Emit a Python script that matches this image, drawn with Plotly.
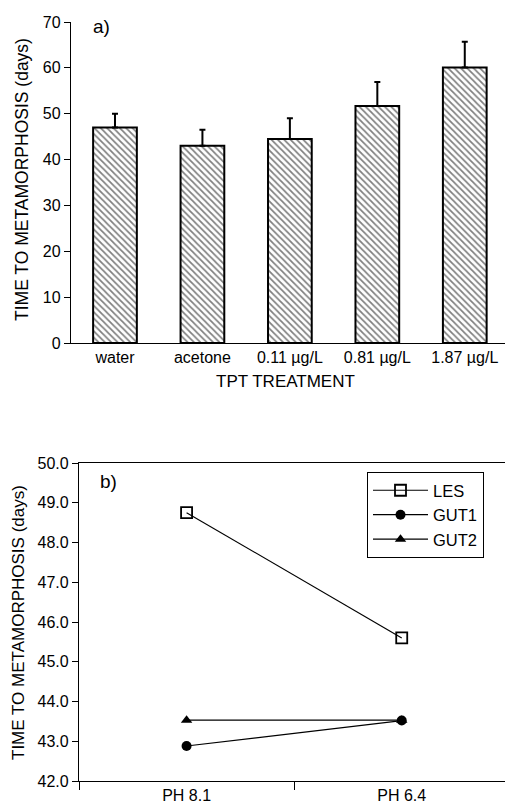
import plotly.graph_objects as go

# Panel a data
treatments = ["water", "acetone", "0.11 µg/L", "0.81 µg/L", "1.87 µg/L"]
days_mean = [47.0, 43.0, 44.5, 51.7, 60.1]
days_err = [3.0, 3.5, 4.5, 5.2, 5.6]

# Panel b data
ph_labels = ["PH 8.1", "PH 6.4"]
ph_pos = [0.5, 1.5]
les = [48.75, 45.6]
gut1 = [42.88, 43.52]
gut2 = [43.53, 43.53]

W, H = 505, 811
FONT = "Liberation Sans, Arial, sans-serif"
FS = 16


def px(X):
    return X / W


def py(Y):
    return 1 - Y / H


fig = go.Figure()

fig.add_trace(go.Bar(
    x=treatments, y=days_mean, width=0.5,
    marker=dict(color="white", line=dict(color="black", width=2),
                pattern=dict(shape="\\", fgcolor="black", bgcolor="white", size=4.5, solidity=0.38)),
    error_y=dict(type="data", array=days_err, arrayminus=[0]*len(days_err), symmetric=False,
                 color="black", thickness=2, width=3),
    xaxis="x", yaxis="y", showlegend=False,
))

fig.add_trace(go.Scatter(x=ph_pos, y=les, name="LES", mode="lines+markers",
    line=dict(color="black", width=1.2),
    marker=dict(symbol="square-open", size=11, color="black", line=dict(width=1.8)),
    xaxis="x2", yaxis="y2", legendrank=1))
fig.add_trace(go.Scatter(x=ph_pos, y=gut2, name="GUT2", mode="lines+markers",
    line=dict(color="black", width=1.2),
    marker=dict(symbol="triangle-up", size=10, color="black"),
    xaxis="x2", yaxis="y2", legendrank=3))
fig.add_trace(go.Scatter(x=ph_pos, y=gut1, name="GUT1", mode="lines+markers",
    line=dict(color="black", width=1.2),
    marker=dict(symbol="circle", size=10, color="black"),
    xaxis="x2", yaxis="y2", legendrank=2))

ax_common = dict(showline=True, linecolor="black", linewidth=1.3, showgrid=False, zeroline=False,
                 tickfont=dict(family=FONT, size=FS, color="black"), automargin=False)

fig.update_layout(
    width=W, height=H, margin=dict(l=0, r=0, t=0, b=0, autoexpand=False),
    paper_bgcolor="white", plot_bgcolor="white",
    font=dict(family=FONT, color="black", size=FS),
    xaxis=dict(domain=[px(71), 1.0], anchor="y", range=[-0.503, 4.46], ticks="", **ax_common),
    yaxis=dict(domain=[py(343), py(22)], anchor="x", range=[0, 70], tickvals=list(range(0, 71, 10)),
               ticks="outside", ticklen=6, tickcolor="black", **ax_common),
    xaxis2=dict(domain=[px(79), 1.0], anchor="y2", range=[0, 1.98], tickvals=ph_pos, ticktext=ph_labels,
                ticks="", mirror=True,
                minor=dict(tick0=0, dtick=1, ticks="outside", ticklen=8, tickcolor="black", tickwidth=1.3),
                **ax_common),
    yaxis2=dict(domain=[py(781), py(463)], anchor="x2", range=[42, 50], tickvals=list(range(42, 51)),
                tickformat=".1f", ticks="outside", ticklen=6, tickcolor="black", **ax_common),
    showlegend=True,
    legend=dict(x=px(367), xanchor="left", y=py(472), yanchor="top",
                bordercolor="black", borderwidth=1, bgcolor="white",
                font=dict(family=FONT, size=16.5, color="black"), tracegroupgap=0, itemwidth=55),
    annotations=[
        dict(text="TIME TO METAMORPHOSIS (days)", x=px(22), y=py(180), xref="paper", yref="paper",
             xanchor="center", yanchor="middle",
             textangle=-90, showarrow=False, font=dict(size=17.5)),
        dict(text="TIME TO METAMORPHOSIS (days)", x=px(18), y=py(623), xref="paper", yref="paper",
             xanchor="center", yanchor="middle",
             textangle=-90, showarrow=False, font=dict(size=17)),
        dict(text="TPT TREATMENT", x=px(285), y=py(381), xref="paper", yref="paper",
             xanchor="center", yanchor="middle",
             showarrow=False, font=dict(size=17)),
        dict(text="a)", x=px(101), y=py(27), xref="paper", yref="paper",
             xanchor="center", yanchor="middle",
             showarrow=False, font=dict(size=19)),
        dict(text="b)", x=px(108), y=py(482), xref="paper", yref="paper",
             xanchor="center", yanchor="middle",
             showarrow=False, font=dict(size=19)),
    ],
)

# remove the browser's default 8px body margin so the 505x811 figure fills the window exactly
fig.write_html("out.html", config={"displayModeBar": False},
               post_script="document.body.style.margin='0';document.body.style.overflow='hidden';")
